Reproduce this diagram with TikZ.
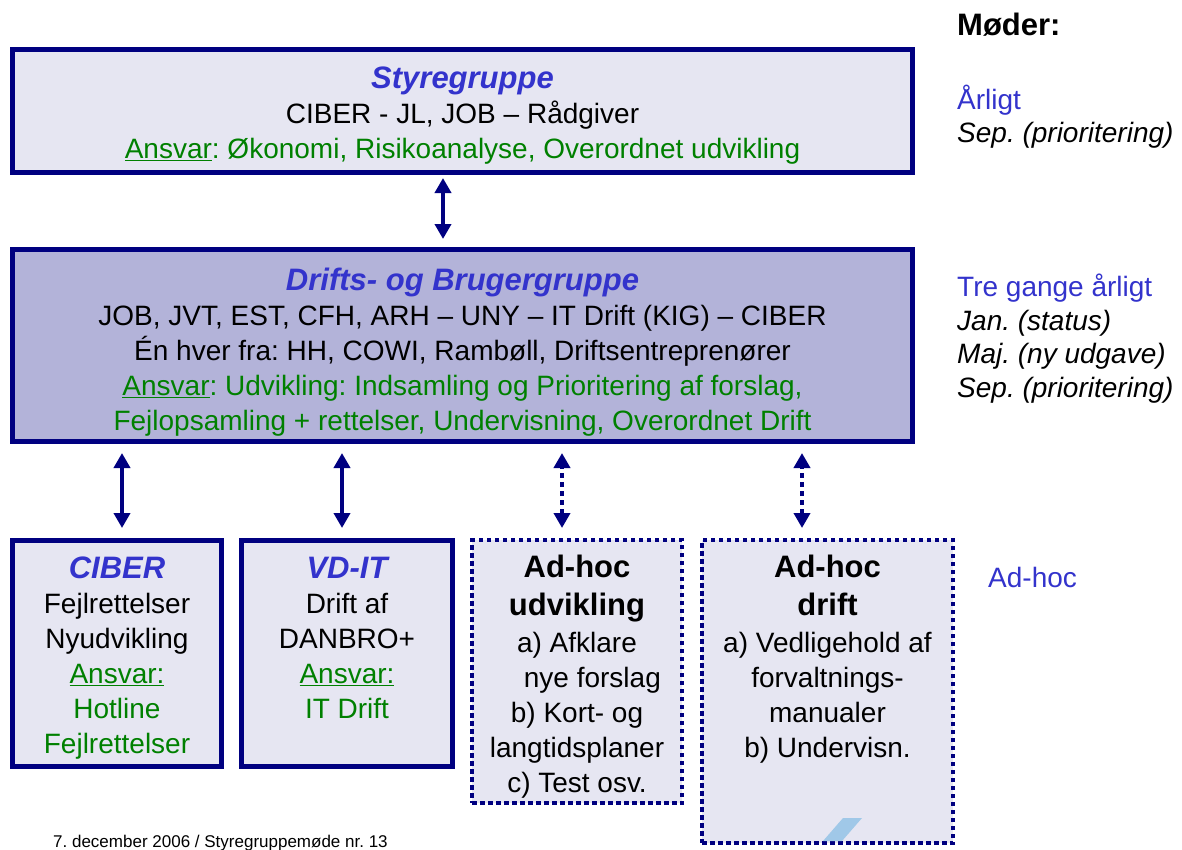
\documentclass[tikz,border=0pt]{standalone}
\usepackage{fontspec}
\setmainfont{Liberation Sans}
\usetikzlibrary{arrows.meta,positioning}
\definecolor{navy}{RGB}{0,0,128}
\definecolor{hdblue}{RGB}{51,51,204}
\definecolor{ansgreen}{RGB}{0,128,0}
\definecolor{palebox}{RGB}{230,230,242}
\definecolor{midbox}{RGB}{179,179,217}
\definecolor{logoblue}{RGB}{160,200,232}
\newcommand\grouphead[1]{{\fontsize{31}{35}\selectfont\bfseries\itshape\color{hdblue}#1}}
\newcommand\adhochead[1]{{\fontsize{31}{35}\selectfont\bfseries #1}}
\newcommand\resp[1]{\textcolor{ansgreen}{#1}}
\frenchspacing

\begin{document}
\begin{tikzpicture}[x=1pt,y=-1pt]
    \tikzset{box/.style={draw=navy,line width=5pt,fill=palebox,outer sep=0pt,inner sep=0pt,
        align=center,font=\fontsize{28}{35}\selectfont},
    dotbox/.style={box,line width=4.5pt,dash pattern=on 4.5pt off 3.5pt},
    boxtext/.style={align=center,anchor=north,inner sep=0pt,font=\fontsize{28}{35}\selectfont},
    side/.style={anchor=west,align=left,inner sep=0pt,font=\fontsize{28}{33.5}\selectfont},
    link/.style={draw=navy,line width=4pt,{Triangle[width=16pt,length=15pt]}-{Triangle[width=16pt,length=15pt]}},
    dotlink/.style={link,dash pattern=on 5pt off 4pt}}
    \useasboundingbox (0,0) rectangle (1182,849);

    % groups
    \node[box,minimum width=900pt,minimum height=123pt] (styre) at (462.5,111)
        {\rule{0pt}{31pt}\grouphead{Styregruppe}\\
         CIBER - JL, JOB -- Rådgiver\\
         \resp{\underline{Ansvar}: Økonomi, Risikoanalyse, Overordnet udvikling}};
    \node[box,fill=midbox,minimum width=900pt,minimum height=191.5pt] (drift) at (462.5,345.25)
        {\rule{0pt}{36pt}\grouphead{Drifts- og Brugergruppe}\\
         JOB, JVT, EST, CFH, ARH -- UNY -- IT Drift (KIG) -- CIBER\\
         Én hver fra: HH, COWI, Rambøll, Driftsentreprenører\\
         \resp{\underline{Ansvar}: Udvikling: Indsamling og Prioritering af forslag,}\\
         \resp{Fejlopsamling + rettelser, Undervisning, Overordnet Drift}};

    % bottom row
    \node[box,minimum width=209pt,minimum height=226pt] (ciber) at (117,653) {};
    \node[box,minimum width=211pt,minimum height=226pt] (vdit) at (347,653) {};
    \node[dotbox,minimum width=210pt,minimum height=263pt] (adudv) at (577,671.5) {};
    \node[dotbox,minimum width=251pt,minimum height=303pt] (addrift) at (827.5,691.5) {};
    \fill[logoblue] (823,841) -- (843,818) -- (862,818) -- (842,841) -- cycle;

    \node[boxtext,below=17pt of ciber.north] (cibertext)
        {\grouphead{CIBER}\\ Fejlrettelser\\ Nyudvikling\\
         \resp{\underline{Ansvar:}}\\ \resp{Hotline}\\ \resp{Fejlrettelser}};
    \node[boxtext,below=17pt of vdit.north] (vdittext)
        {\grouphead{VD-IT}\\ Drift af\\ DANBRO+\\
         \resp{\underline{Ansvar:}}\\ \resp{IT Drift}};
    \node[boxtext,below=15pt of adudv.north] (adudvtext)
        {\adhochead{Ad-hoc}\\[3pt] \adhochead{udvikling}\\[2pt] a) Afklare\\
         \hspace*{1.1em}nye forslag\\ b) Kort- og\\ langtidsplaner\\ c) Test osv.};
    \node[boxtext,below=15pt of addrift.north] (addrifttext)
        {\adhochead{Ad-hoc}\\[3pt] \adhochead{drift}\\[2pt] a) Vedligehold af\\
         forvaltnings-\\ manualer\\ b) Undervisn.};

    % connectors
    \draw[link,shorten <=5.5pt,shorten >=10.5pt] ([xshift=-19.5pt]styre.south) -- ([xshift=-19.5pt]drift.north);
    \foreach \b/\dx/\st in {ciber/5/link, vdit/-5/link, adudv/-15/dotlink, addrift/-25.5/dotlink} {
        \coordinate (\b-top) at ([xshift=\dx pt]\b.north);
        \draw[\st,shorten <=12pt,shorten >=12pt] (\b-top) -- (\b-top |- drift.south);
    }

    % meetings
    \node[side,font=\fontsize{31}{35}\selectfont\bfseries] (moeder) at (957,25) {Møder:};
    \node[side] (aarligt) at (957,116.5)
        {\textcolor{hdblue}{Årligt}\\ \textit{Sep. (prioritering)}};
    \node[side] (tregange) at (957,338.5)
        {\textcolor{hdblue}{Tre gange årligt}\\ \textit{Jan. (status)}\\
         \textit{Maj. (ny udgave)}\\ \textit{Sep. (prioritering)}};
    \node[side,text=hdblue] (adhoc) at (988,577) {Ad-hoc};

    \node[anchor=west,inner sep=0pt,font=\fontsize{17}{20}\selectfont] (footer) at (53,843)
        {7. december 2006 / Styregruppemøde nr. 13};
\end{tikzpicture}
\end{document}
